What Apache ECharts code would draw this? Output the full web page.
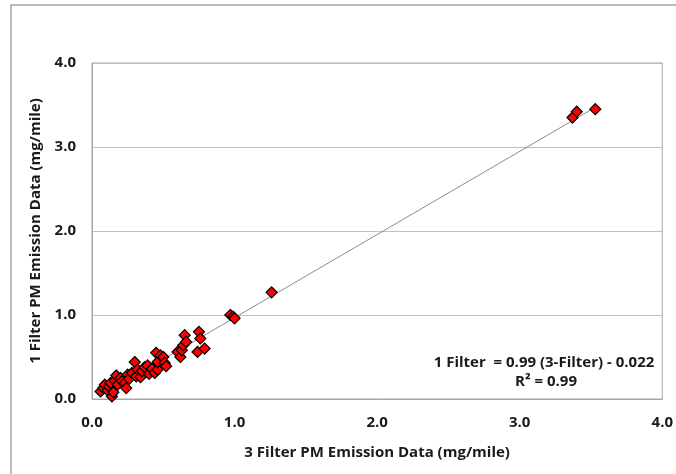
<!DOCTYPE html>
<html>
<head>
<meta charset="utf-8">
<script src="https://cdn.jsdelivr.net/npm/echarts@6/dist/echarts.min.js"></script>
<style>
  html, body { margin: 0; padding: 0; background: #fff; }
  #chart { width: 676px; height: 474px; }
</style>
</head>
<body>
<div id="chart"></div>
<script>
// 3-filter vs 1-filter PM emission measurements (mg/mile)
const threeFilter = [
  0.06, 0.08, 0.09, 0.11, 0.12, 0.13, 0.14, 0.15, 0.16, 0.17,
  0.18, 0.20, 0.21, 0.23, 0.24, 0.25, 0.26, 0.28, 0.30, 0.31,
  0.32, 0.34, 0.35, 0.37, 0.39, 0.40, 0.42, 0.44, 0.45, 0.46,
  0.46, 0.48, 0.50, 0.51, 0.52, 0.60, 0.62, 0.63, 0.64, 0.65,
  0.66, 0.74, 0.75, 0.76, 0.79, 0.97, 0.99, 1.00, 1.26, 3.37,
  3.40, 3.53
];
const oneFilter = [
  0.09, 0.13, 0.17, 0.10, 0.15, 0.19, 0.03, 0.08, 0.22, 0.28,
  0.17, 0.25, 0.21, 0.19, 0.13, 0.29, 0.24, 0.31, 0.44, 0.27,
  0.35, 0.26, 0.33, 0.38, 0.40, 0.30, 0.36, 0.31, 0.55, 0.35,
  0.44, 0.52, 0.50, 0.43, 0.39, 0.56, 0.50, 0.58, 0.64, 0.76,
  0.68, 0.56, 0.80, 0.72, 0.60, 1.00, 0.98, 0.96, 1.27, 3.35,
  3.42, 3.45
];

// Linear fit reported on the chart
const fitSlope = 0.99;
const fitIntercept = -0.022;
const fitLabel = ['1 Filter  = 0.99 (3-Filter) - 0.022', 'R\u00b2 = 0.99'];

const axisTicks = [0, 1, 2, 3, 4];
const xTitle = '3 Filter PM Emission Data (mg/mile)';
const yTitle = '1 Filter PM Emission Data (mg/mile)';

const points = threeFilter.map((x, i) => [x, oneFilter[i]]);
const xMin = Math.min(...threeFilter);
const xMax = Math.max(...threeFilter);
const fitLine = [
  [xMin, fitSlope * xMin + fitIntercept],
  [xMax, fitSlope * xMax + fitIntercept]
];

const FONT = '"Open Sans", sans-serif';
const TEXT = '#1a1a1a';
const FS = 15;

const chart = echarts.init(document.getElementById('chart'), null, { renderer: 'canvas' });
chart.setOption({
  animation: false,
  backgroundColor: '#ffffff',
  grid: {
    left: 92, top: 63, width: 571, height: 336,
    show: true, borderColor: '#a6a6a6', borderWidth: 1, backgroundColor: 'transparent'
  },
  xAxis: {
    type: 'value',
    min: axisTicks[0], max: axisTicks[axisTicks.length - 1], interval: 1,
    name: xTitle, nameLocation: 'middle', nameGap: 46,
    nameTextStyle: { fontFamily: FONT, fontWeight: 'bold', fontSize: FS, color: TEXT },
    axisLine: { show: true, lineStyle: { color: '#a6a6a6' } },
    axisTick: { show: false },
    splitLine: { show: false },
    axisLabel: {
      margin: 16, fontFamily: FONT, fontWeight: 'bold', fontSize: FS, color: TEXT,
      formatter: v => v.toFixed(1)
    }
  },
  yAxis: {
    type: 'value',
    min: axisTicks[0], max: axisTicks[axisTicks.length - 1], interval: 1,
    name: yTitle, nameLocation: 'middle', nameGap: 41, nameRotate: 90,
    nameTextStyle: { fontFamily: FONT, fontWeight: 'bold', fontSize: FS, color: TEXT },
    axisLine: { show: true, lineStyle: { color: '#a6a6a6' } },
    axisTick: { show: false },
    splitLine: { show: true, lineStyle: { color: '#bfbfbf', width: 1 } },
    axisLabel: {
      margin: 16, fontFamily: FONT, fontWeight: 'bold', fontSize: FS, color: TEXT,
      formatter: v => v.toFixed(1)
    }
  },
  series: [
    {
      type: 'line',
      data: fitLine,
      symbol: 'none',
      lineStyle: { color: '#8c8c8c', width: 1 },
      z: 2
    },
    {
      type: 'scatter',
      data: points,
      symbol: 'diamond',
      symbolSize: 11,
      itemStyle: { color: '#ff0000', opacity: 1, borderColor: '#000000', borderWidth: 1.2 },
      z: 3
    }
  ],
  graphic: [
    {
      type: 'rect',
      shape: { x: 11, y: 5, width: 700, height: 500 },
      style: { fill: 'none', stroke: '#a6a6a6', lineWidth: 1.5 },
      silent: true
    },
    {
      type: 'text', x: 544, y: 363,
      style: { text: fitLabel[0], fontFamily: FONT, fontWeight: 'bold', fontSize: FS, fill: TEXT,
        align: 'center', verticalAlign: 'middle' }
    },
    {
      type: 'text', x: 546, y: 382,
      style: { text: fitLabel[1], fontFamily: FONT, fontWeight: 'bold', fontSize: FS, fill: TEXT,
        align: 'center', verticalAlign: 'middle' }
    }
  ]
});
</script>
</body>
</html>
